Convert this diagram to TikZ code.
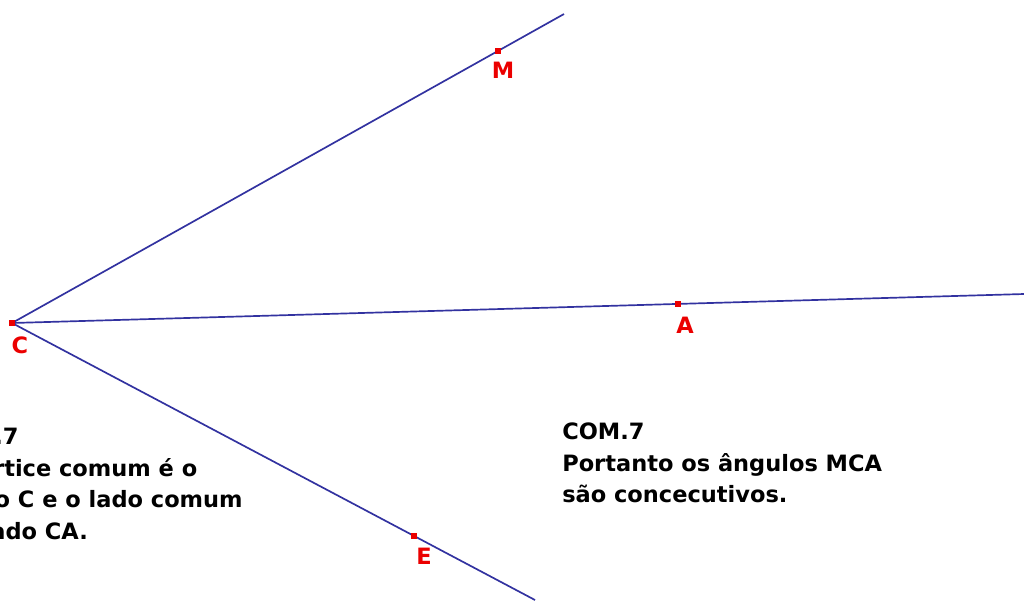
\documentclass[tikz,border=0pt]{standalone}
\usepackage{fontspec}
\setsansfont{DejaVu Sans}
\usepackage{tikz}
\definecolor{raycol}{RGB}{50,50,160}
\definecolor{ptcol}{RGB}{235,0,0}

\begin{document}
\begin{tikzpicture}[x=0.025cm, y=-0.025cm,
  ray/.style={draw=raycol, line width=1.2pt},
  pt/.style={rectangle, fill=ptcol, inner sep=0pt, minimum size=3.6pt},
  lbl/.style={text=ptcol, font=\sffamily\bfseries\fontsize{16}{18}\selectfont, inner sep=0pt},
  txt/.style={align=left, inner sep=0pt, font=\sffamily\bfseries\fontsize{16}{22.4}\selectfont}]
  \useasboundingbox (0,0) rectangle (1024,600);

  \node[pt] (C) at (12,323) {};
  \node[pt] (M) at (498,51) {};
  \node[pt] (A) at (678,304) {};
  \node[pt] (E) at (414,536) {};

  \coordinate (m) at (564,14);
  \coordinate (a) at (1024,294);
  \coordinate (e) at (535,600);

  \draw[ray] (C.center) -- (m);
  \draw[ray] (C.center) -- (a);
  \draw[ray] (C.center) -- (e);

  \node[pt] at (C) {};
  \node[pt] at (M) {};
  \node[pt] at (A) {};
  \node[pt] at (E) {};

  \node[lbl] (Cl) at (20,345) {C};
  \node[lbl] (Ml) at (503,70) {M};
  \node[lbl] (Al) at (685,325) {A};
  \node[lbl] (El) at (424,556) {E};

  \begin{scope}
    \clip (0,0) rectangle (1024,600);
    \node[txt, anchor=north west] (left) at (-64,428) {COM.7\\O vértice comum é o\\ponto C e o lado comum\\é o lado CA.};
  \end{scope}
  \node[txt, anchor=north west] (right) at (562,423) {COM.7\\Portanto os ângulos MCA\\são concecutivos.};
\end{tikzpicture}
\end{document}
